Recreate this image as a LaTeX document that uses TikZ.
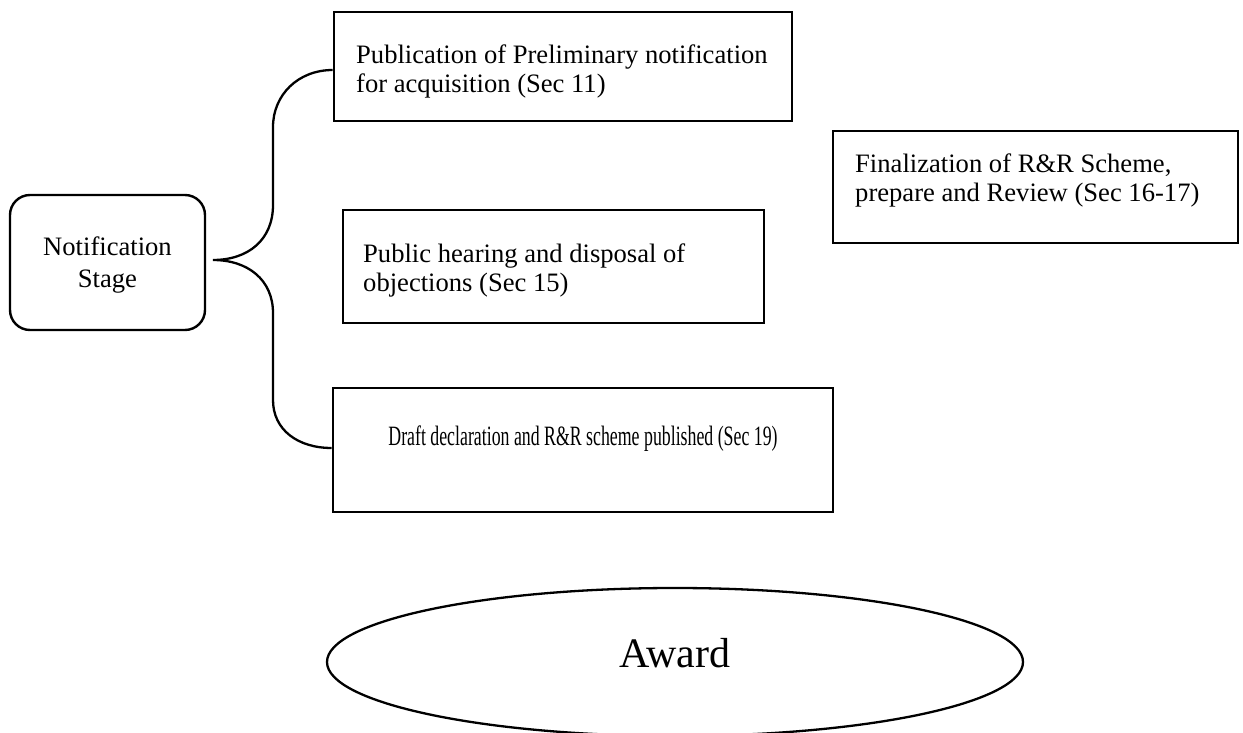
\documentclass[tikz,border=0pt]{standalone}
\usepackage{fontspec}
\setmainfont{Liberation Serif}
\usetikzlibrary{shapes.geometric}
\tikzset{
  boxshape/.style={draw=black, line width=2.6pt, rectangle, inner sep=0pt},
  stagebox/.style={draw=black, line width=2.4pt, rectangle, rounded corners=20pt, inner sep=0pt},
  bodytext/.style={inner sep=0pt, font=\fontsize{26.6}{29}\selectfont},
  bracepath/.style={draw=black, line width=2.3pt},
  awardshape/.style={draw=black, line width=2.3pt, ellipse, inner sep=0pt}
}
\begin{document}
\begin{tikzpicture}[x=1pt,y=-1pt]
\useasboundingbox (0,0) rectangle (1243,733);
\clip (0,0) rectangle (1243,733);
\fill[white] (0,0) rectangle (1243,733);

% boxes
\node[stagebox, minimum width=195pt, minimum height=135pt] (stage) at (107.5,262.5) {};
\node[boxshape, minimum width=458pt, minimum height=109pt] (pub) at (563,66.5) {};
\node[boxshape, minimum width=405pt, minimum height=112pt] (fin) at (1035.5,187) {};
\node[boxshape, minimum width=421pt, minimum height=113pt] (hear) at (553.5,266.5) {};
\node[boxshape, minimum width=500pt, minimum height=124pt] (draft) at (583,450) {};
\node[awardshape, minimum width=696pt, minimum height=148pt] (award) at (675,662) {};

% texts
\node[bodytext, anchor=base, font=\fontsize{26.6}{32}\selectfont] (stagetext) at (107.5,255)
  {\begin{tabular}[t]{@{}c@{}}Notification\\Stage\end{tabular}};
\node[bodytext, anchor=base west] (pubtext) at (356,64)
  {\begin{tabular}[t]{@{}l@{}}Publication of Preliminary notification\\for acquisition (Sec 11)\end{tabular}};
\node[bodytext, anchor=base west] (fintext) at (855,172)
  {\begin{tabular}[t]{@{}l@{}}Finalization of R\&R Scheme,\\prepare and Review (Sec 16-17)\end{tabular}};
\node[bodytext, anchor=base west] (heartext) at (363,262)
  {\begin{tabular}[t]{@{}l@{}}Public hearing and disposal of\\objections (Sec 15)\end{tabular}};
\node[inner sep=0pt, anchor=base, font=\fontsize{28}{30}\selectfont] (drafttext) at (583,445)
  {\scalebox{0.636}[1]{Draft declaration and R\&R scheme published (Sec 19)}};
\node[inner sep=0pt, anchor=base, font=\fontsize{42}{48}\selectfont] (awardtext) at (675,667) {Award};

% brace
\coordinate (tip) at (213,260);
\coordinate (topend) at (pub.west |- 0,70);
\coordinate (botend) at (draft.west |- 0,448);
\draw[bracepath] (topend) .. controls (298,70) and (273,95) .. (273,127)
  -- (273,205) .. controls (273,240) and (248,260) .. (tip)
  .. controls (248,260) and (273,280) .. (273,313)
  -- (273,400) .. controls (273,430) and (298,448) .. (botend);
\end{tikzpicture}
\end{document}
